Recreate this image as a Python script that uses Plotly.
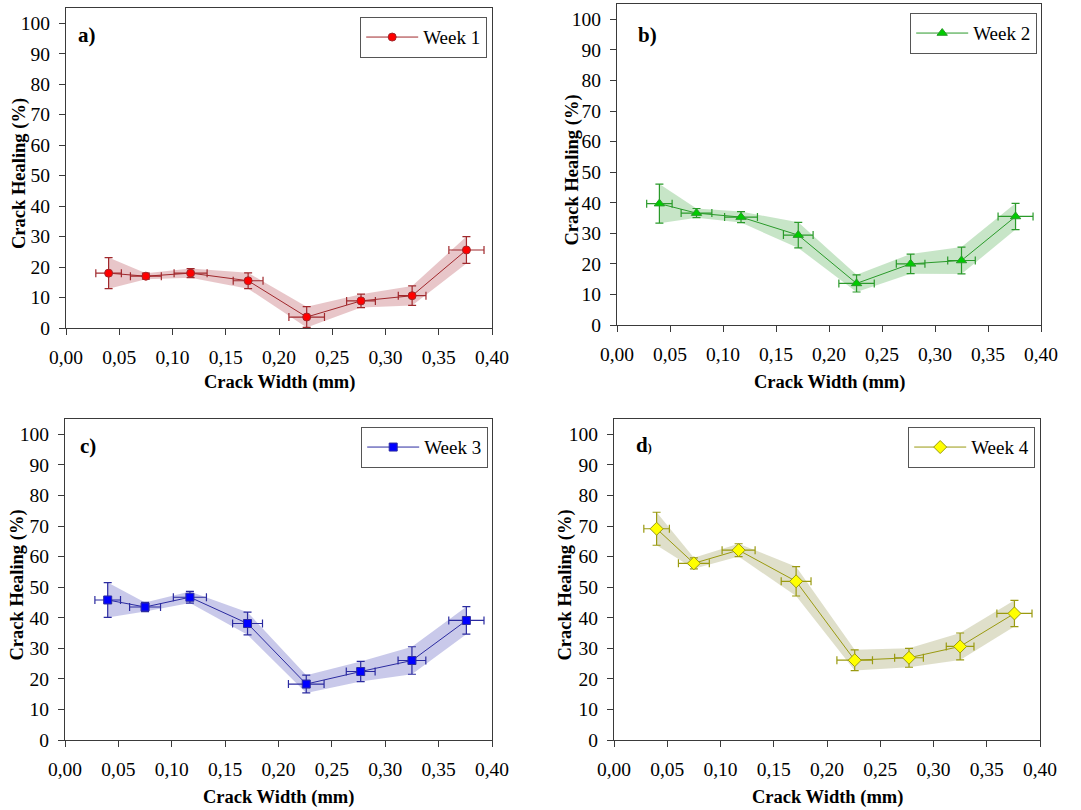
import plotly.graph_objects as go

# ---------------- data ----------------
crack_width = [0.040, 0.075, 0.117, 0.171, 0.226, 0.277, 0.325, 0.376]
width_err = [0.012, 0.0145, 0.0155, 0.014, 0.0167, 0.0135, 0.013, 0.0165]

week1 = [18.0, 17.0, 18.0, 15.5, 3.6, 8.9, 10.6, 25.6]
week1_err = [5.1, 1.0, 1.5, 2.6, 3.4, 2.2, 3.2, 4.4]
week2 = [39.7, 36.6, 35.3, 29.4, 13.6, 20.0, 21.1, 35.5]
week2_err = [6.4, 1.5, 1.8, 4.2, 2.8, 3.2, 4.4, 4.3]
week3 = [45.8, 43.5, 46.7, 38.1, 18.3, 22.4, 26.0, 39.1]
week3_err = [5.7, 1.5, 1.9, 3.7, 2.9, 3.3, 4.5, 4.5]
week4 = [69.1, 57.8, 62.1, 51.9, 26.1, 26.9, 30.6, 41.4]
week4_err = [5.4, 1.8, 2.1, 4.8, 3.4, 3.1, 4.4, 4.3]

series_names = ["Week 1", "Week 2", "Week 3", "Week 4"]
panel_labels = ["a)", "b)", "c)", "d<span style='font-size:12px'>)</span>"]
x_ticks = [0.0, 0.05, 0.10, 0.15, 0.20, 0.25, 0.30, 0.35, 0.40]
y_ticks = [0, 10, 20, 30, 40, 50, 60, 70, 80, 90, 100]

# ---------------- styles ----------------
W, H = 1081, 810
FONT = "Liberation Serif"
styles = [
    dict(line="#A0282C", marker="#FF0000", mline="#A0282C", symbol="circle", size=8,
         fill="rgba(170,45,55,0.27)"),
    dict(line="#2A9A2A", marker="#00CC00", mline="#2A9A2A", symbol="triangle-up", size=9,
         fill="rgba(70,170,70,0.30)"),
    dict(line="#2B2BA0", marker="#0000FF", mline="#2B2BA0", symbol="square", size=8,
         fill="rgba(90,90,190,0.33)"),
    dict(line="#9A9A10", marker="#FFFF00", mline="#9A9A10", symbol="diamond", size=10,
         fill="rgba(150,150,80,0.30)"),
]
# pixel boxes of plot areas: (left, right, top, bottom)
boxes = [
    (66, 492, 8, 328),
    (617, 1041, 4, 325),
    (65, 492, 419, 740),
    (614, 1040, 419, 740),
]
legend_pos = [(487, 17), (1037, 13), (488, 427), (1035, 427)]
label_pos = [(76, 35), (636, 35), (78, 446), (634, 445)]
ytitle_x = [20, 572, 17, 565]
xtitle_y = [382, 382, 797, 797]

data = [(week1, week1_err), (week2, week2_err), (week3, week3_err), (week4, week4_err)]

fig = go.Figure()
layout = dict(
    width=W, height=H, margin=dict(l=0, r=0, t=0, b=0, autoexpand=False),
    paper_bgcolor="white", plot_bgcolor="white",
    separators=",.", font=dict(family=FONT, size=19, color="black"),
    annotations=[],
)

for i, ((vals, errs), st, box) in enumerate(zip(data, styles, boxes)):
    ax = "" if i == 0 else str(i + 1)
    xref, yref = "x" + ax, "y" + ax
    upper = [v + e for v, e in zip(vals, errs)]
    lower = [v - e for v, e in zip(vals, errs)]
    # band
    fig.add_trace(go.Scatter(
        x=crack_width + crack_width[::-1], y=upper + lower[::-1],
        fill="toself", fillcolor=st["fill"], line=dict(width=0),
        mode="lines", showlegend=False, hoverinfo="skip",
        xaxis=xref, yaxis=yref))
    leg = "legend" if i == 0 else "legend" + str(i + 1)
    fig.add_trace(go.Scatter(
        x=crack_width, y=vals, name=series_names[i], mode="lines+markers",
        line=dict(color=st["line"], width=1),
        marker=dict(symbol=st["symbol"], size=st["size"], color=st["marker"],
                    line=dict(color=st["mline"], width=1)),
        error_y=dict(type="data", array=errs, visible=True, color=st["line"],
                     thickness=1.2, width=4),
        error_x=dict(type="data", array=width_err, visible=True, color=st["line"],
                     thickness=1.2, width=4),
        xaxis=xref, yaxis=yref, legend=leg))

    l, r, t, b = box
    xd = [l / W, r / W]
    yd = [1 - b / H, 1 - t / H]
    common = dict(showline=True, linecolor="#3a3a3a", linewidth=1.2, mirror=True,
                  ticks="outside", ticklen=6, tickcolor="#3a3a3a", showgrid=False,
                  zeroline=False, automargin=False,
                  tickfont=dict(family=FONT, size=19.5, color="black"))
    layout["xaxis" + ax] = dict(domain=xd, range=[0, 0.40], tickvals=x_ticks,
                                tickformat=".2f", anchor="y" + ax,
                                ticklabelstandoff=5, **common)
    layout["yaxis" + ax] = dict(domain=yd, range=[0, 105], tickvals=y_ticks,
                                anchor="x" + ax, ticklabelstandoff=5, **common)
    lx, ly = legend_pos[i]
    layout[leg] = dict(x=lx / W, y=1 - ly / H, xanchor="right", yanchor="top",
                       bordercolor="#555555", borderwidth=1.2, bgcolor="white",
                       font=dict(family=FONT, size=19, color="black"),
                       itemwidth=52)
    px_, py_ = label_pos[i]
    layout["annotations"].append(dict(
        text="<b>" + panel_labels[i] + "</b>", x=px_ / W, y=1 - py_ / H,
        xref="paper", yref="paper", xanchor="left", yanchor="middle",
        showarrow=False, font=dict(family=FONT, size=21, color="black")))
    layout["annotations"].append(dict(
        text="<b>Crack Healing (%)</b>", x=ytitle_x[i] / W, y=1 - ((t + b) / 2 + 6) / H,
        xref="paper", yref="paper", xanchor="center", yanchor="middle",
        textangle=-90, showarrow=False, font=dict(family=FONT, size=18.5, color="black")))
    layout["annotations"].append(dict(
        text="<b>Crack Width (mm)</b>", x=(l + r) / 2 / W, y=1 - xtitle_y[i] / H,
        xref="paper", yref="paper", xanchor="center", yanchor="middle",
        showarrow=False, font=dict(family=FONT, size=18.5, color="black")))

fig.update_layout(**layout)
fig.write_html("out.html", config={"displayModeBar": False},
               post_script="document.body.style.margin='0';document.body.style.overflow='hidden';")
